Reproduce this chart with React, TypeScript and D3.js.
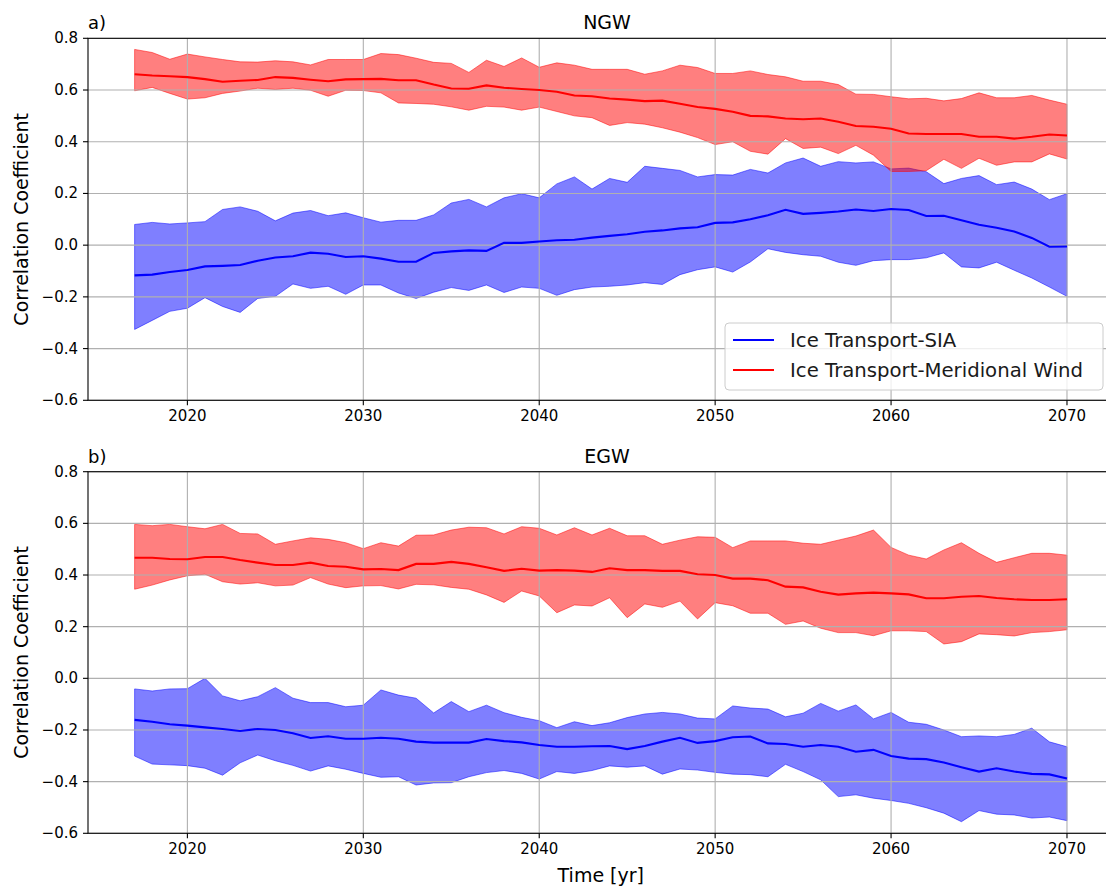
import React from 'react';
import * as d3 from 'd3';

const W = 1106;
const H = 889;

const years = [
  2017, 2018, 2019, 2020, 2021, 2022, 2023, 2024, 2025, 2026,
  2027, 2028, 2029, 2030, 2031, 2032, 2033, 2034, 2035, 2036,
  2037, 2038, 2039, 2040, 2041, 2042, 2043, 2044, 2045, 2046,
  2047, 2048, 2049, 2050, 2051, 2052, 2053, 2054, 2055, 2056,
  2057, 2058, 2059, 2060, 2061, 2062, 2063, 2064, 2065, 2066,
  2067, 2068, 2069, 2070,
];

// NGW: ice transport vs SIA
const ngwSiaMean = [
  -0.117, -0.114, -0.104, -0.096, -0.082, -0.080, -0.077, -0.060, -0.048, -0.043,
  -0.029, -0.033, -0.046, -0.043, -0.052, -0.064, -0.064, -0.030, -0.024, -0.020,
  -0.022, 0.009, 0.009, 0.014, 0.019, 0.021, 0.029, 0.036, 0.042, 0.052,
  0.057, 0.065, 0.069, 0.086, 0.088, 0.100, 0.116, 0.137, 0.121, 0.125,
  0.130, 0.138, 0.132, 0.140, 0.136, 0.113, 0.114, 0.096, 0.079, 0.067,
  0.053, 0.028, -0.006, -0.005,
];
const ngwSiaHigh = [
  0.080, 0.088, 0.082, 0.086, 0.091, 0.138, 0.148, 0.131, 0.094, 0.124,
  0.134, 0.114, 0.125, 0.106, 0.089, 0.096, 0.096, 0.117, 0.163, 0.177,
  0.148, 0.183, 0.199, 0.183, 0.237, 0.264, 0.217, 0.258, 0.243, 0.305,
  0.297, 0.289, 0.264, 0.273, 0.271, 0.293, 0.279, 0.318, 0.337, 0.305,
  0.323, 0.318, 0.322, 0.295, 0.298, 0.284, 0.238, 0.258, 0.269, 0.234,
  0.244, 0.217, 0.176, 0.199,
];
const ngwSiaLow = [
  -0.326, -0.291, -0.256, -0.244, -0.203, -0.237, -0.260, -0.206, -0.198, -0.150,
  -0.167, -0.159, -0.190, -0.154, -0.154, -0.185, -0.206, -0.182, -0.164, -0.175,
  -0.154, -0.183, -0.162, -0.167, -0.194, -0.172, -0.162, -0.159, -0.154, -0.145,
  -0.152, -0.114, -0.095, -0.084, -0.104, -0.065, -0.014, -0.028, -0.037, -0.043,
  -0.066, -0.078, -0.060, -0.056, -0.056, -0.049, -0.030, -0.084, -0.088, -0.066,
  -0.097, -0.127, -0.162, -0.198,
];

// NGW: ice transport vs meridional wind
const ngwWindMean = [
  0.661, 0.656, 0.653, 0.650, 0.642, 0.632, 0.636, 0.639, 0.650, 0.647,
  0.640, 0.634, 0.641, 0.642, 0.643, 0.638, 0.638, 0.621, 0.606, 0.605,
  0.618, 0.609, 0.604, 0.600, 0.593, 0.579, 0.576, 0.567, 0.563, 0.557,
  0.559, 0.547, 0.534, 0.527, 0.516, 0.500, 0.498, 0.490, 0.487, 0.490,
  0.477, 0.461, 0.458, 0.450, 0.432, 0.430, 0.430, 0.430, 0.419, 0.419,
  0.412, 0.419, 0.428, 0.424,
];
const ngwWindHigh = [
  0.757, 0.745, 0.719, 0.739, 0.728, 0.718, 0.709, 0.708, 0.713, 0.709,
  0.697, 0.718, 0.718, 0.718, 0.741, 0.737, 0.723, 0.707, 0.703, 0.668,
  0.715, 0.691, 0.724, 0.688, 0.705, 0.696, 0.680, 0.680, 0.680, 0.661,
  0.674, 0.696, 0.687, 0.664, 0.664, 0.674, 0.660, 0.651, 0.634, 0.634,
  0.621, 0.584, 0.583, 0.574, 0.566, 0.568, 0.558, 0.567, 0.589, 0.570,
  0.570, 0.579, 0.561, 0.545,
];
const ngwWindLow = [
  0.597, 0.610, 0.587, 0.565, 0.570, 0.587, 0.596, 0.607, 0.602, 0.607,
  0.599, 0.576, 0.599, 0.598, 0.589, 0.550, 0.548, 0.545, 0.535, 0.522,
  0.537, 0.534, 0.522, 0.534, 0.517, 0.500, 0.493, 0.463, 0.474, 0.468,
  0.454, 0.437, 0.416, 0.389, 0.400, 0.363, 0.352, 0.412, 0.374, 0.379,
  0.354, 0.386, 0.348, 0.285, 0.285, 0.288, 0.332, 0.297, 0.336, 0.309,
  0.322, 0.322, 0.353, 0.333,
];

// EGW: ice transport vs SIA
const egwSiaMean = [
  -0.161, -0.168, -0.178, -0.183, -0.190, -0.196, -0.204, -0.196, -0.200, -0.213,
  -0.231, -0.224, -0.234, -0.234, -0.230, -0.234, -0.245, -0.249, -0.249, -0.249,
  -0.235, -0.243, -0.248, -0.258, -0.265, -0.265, -0.263, -0.262, -0.274, -0.262,
  -0.245, -0.230, -0.250, -0.243, -0.228, -0.225, -0.252, -0.254, -0.265, -0.258,
  -0.265, -0.284, -0.277, -0.301, -0.311, -0.313, -0.326, -0.344, -0.361, -0.348,
  -0.361, -0.370, -0.372, -0.388,
];
const egwSiaHigh = [
  -0.041, -0.049, -0.041, -0.040, 0.000, -0.068, -0.087, -0.071, -0.036, -0.077,
  -0.094, -0.094, -0.110, -0.104, -0.045, -0.065, -0.077, -0.134, -0.090, -0.129,
  -0.104, -0.133, -0.151, -0.164, -0.191, -0.168, -0.183, -0.172, -0.152, -0.138,
  -0.132, -0.138, -0.154, -0.157, -0.107, -0.115, -0.119, -0.149, -0.135, -0.097,
  -0.127, -0.103, -0.157, -0.132, -0.170, -0.178, -0.200, -0.226, -0.223, -0.226,
  -0.217, -0.193, -0.246, -0.265,
];
const egwSiaLow = [
  -0.301, -0.332, -0.335, -0.338, -0.348, -0.375, -0.327, -0.297, -0.319, -0.337,
  -0.359, -0.339, -0.352, -0.368, -0.383, -0.381, -0.413, -0.405, -0.404, -0.381,
  -0.365, -0.357, -0.368, -0.390, -0.361, -0.368, -0.357, -0.339, -0.344, -0.339,
  -0.371, -0.351, -0.355, -0.364, -0.371, -0.373, -0.381, -0.333, -0.361, -0.393,
  -0.458, -0.451, -0.464, -0.473, -0.484, -0.501, -0.522, -0.555, -0.512, -0.526,
  -0.529, -0.541, -0.537, -0.551,
];

// EGW: ice transport vs meridional wind
const egwWindMean = [
  0.467, 0.467, 0.462, 0.461, 0.470, 0.470, 0.458, 0.448, 0.439, 0.439,
  0.448, 0.435, 0.432, 0.422, 0.423, 0.419, 0.443, 0.443, 0.451, 0.443,
  0.430, 0.416, 0.424, 0.417, 0.419, 0.417, 0.412, 0.426, 0.419, 0.419,
  0.416, 0.416, 0.403, 0.400, 0.386, 0.386, 0.380, 0.355, 0.352, 0.335,
  0.324, 0.329, 0.332, 0.329, 0.325, 0.310, 0.310, 0.316, 0.319, 0.311,
  0.306, 0.303, 0.303, 0.306,
];
const egwWindHigh = [
  0.596, 0.591, 0.596, 0.587, 0.579, 0.596, 0.561, 0.559, 0.519, 0.532,
  0.544, 0.538, 0.525, 0.502, 0.525, 0.512, 0.554, 0.555, 0.574, 0.585,
  0.583, 0.559, 0.587, 0.581, 0.555, 0.583, 0.555, 0.581, 0.552, 0.552,
  0.519, 0.535, 0.548, 0.546, 0.506, 0.532, 0.532, 0.532, 0.523, 0.519,
  0.535, 0.551, 0.574, 0.507, 0.477, 0.462, 0.497, 0.525, 0.484, 0.449,
  0.467, 0.484, 0.484, 0.477,
];
const egwWindLow = [
  0.345, 0.361, 0.381, 0.397, 0.403, 0.374, 0.365, 0.370, 0.358, 0.361,
  0.390, 0.365, 0.351, 0.358, 0.359, 0.346, 0.364, 0.362, 0.352, 0.345,
  0.323, 0.294, 0.338, 0.319, 0.254, 0.284, 0.280, 0.312, 0.235, 0.288,
  0.275, 0.299, 0.230, 0.293, 0.281, 0.252, 0.252, 0.209, 0.222, 0.194,
  0.177, 0.177, 0.165, 0.184, 0.184, 0.181, 0.133, 0.142, 0.172, 0.169,
  0.164, 0.177, 0.181, 0.188,
];

const xTicks = [2020, 2030, 2040, 2050, 2060, 2070];
const yTicks = [-0.6, -0.4, -0.2, 0.0, 0.2, 0.4, 0.6, 0.8];
const yTickLabels = ['\u22120.6', '\u22120.4', '\u22120.2', '0.0', '0.2', '0.4', '0.6', '0.8'];

const seriesNames = ['Ice Transport-SIA', 'Ice Transport-Meridional Wind'];
const seriesColors = ['#0000ff', '#ff0000'];

const FONT = 'DejaVu Sans, sans-serif';
const AX_LEFT = 88;
const AX_RIGHT = 1113.6;

const x = d3.scaleLinear().domain([2014.35, 2072.65]).range([AX_LEFT, AX_RIGHT]);

type Band = { mean: number[]; high: number[]; low: number[] };

function Panel(props: {
  top: number;
  bottom: number;
  tag: string;
  title: string;
  bands: Band[];
  legend: boolean;
  id: string;
}) {
  const { top, bottom, tag, title, bands, legend, id } = props;
  const y = d3.scaleLinear().domain([-0.6, 0.8]).range([bottom, top]);
  const idx = years.map((_, i) => i);

  const areaOf = (b: Band) =>
    d3
      .area<number>()
      .x((i) => x(years[i]))
      .y0((i) => y(b.low[i]))
      .y1((i) => y(b.high[i]))(idx) || '';
  const lineOf = (b: Band) =>
    d3
      .line<number>()
      .x((i) => x(years[i]))
      .y((i) => y(b.mean[i]))(idx) || '';

  const midY = (top + bottom) / 2;

  return (
    <g>
      <defs>
        <clipPath id={id}>
          <rect x={AX_LEFT} y={top} width={AX_RIGHT - AX_LEFT} height={bottom - top} />
        </clipPath>
      </defs>
      <g clipPath={`url(#${id})`}>
        {bands.map((b, k) => (
          <path
            key={'a' + k}
            d={areaOf(b)}
            fill={seriesColors[k]}
            fillOpacity={0.5}
            stroke={seriesColors[k]}
            strokeOpacity={0.5}
            strokeWidth={1}
          />
        ))}
        {xTicks.map((t) => (
          <line key={'gx' + t} x1={x(t)} x2={x(t)} y1={top} y2={bottom} stroke="#b0b0b0" strokeWidth={1.1} />
        ))}
        {yTicks.map((t) => (
          <line key={'gy' + t} x1={AX_LEFT} x2={AX_RIGHT} y1={y(t)} y2={y(t)} stroke="#b0b0b0" strokeWidth={1.1} />
        ))}
        {bands.map((b, k) => (
          <path key={'l' + k} d={lineOf(b)} fill="none" stroke={seriesColors[k]} strokeWidth={2.1} />
        ))}
      </g>
      <rect x={AX_LEFT} y={top} width={AX_RIGHT - AX_LEFT} height={bottom - top} fill="none" stroke="#000" strokeWidth={1.1} />
      {xTicks.map((t) => (
        <g key={'tx' + t}>
          <line x1={x(t)} x2={x(t)} y1={bottom} y2={bottom + 5} stroke="#000" strokeWidth={1.1} />
          <text x={x(t)} y={bottom + 21} textAnchor="middle" fontFamily={FONT} fontSize={15} fill="#000">
            {t}
          </text>
        </g>
      ))}
      {yTicks.map((t, i) => (
        <g key={'ty' + t}>
          <line x1={AX_LEFT - 5} x2={AX_LEFT} y1={y(t)} y2={y(t)} stroke="#000" strokeWidth={1.1} />
          <text x={AX_LEFT - 10} y={y(t) + 5} textAnchor="end" fontFamily={FONT} fontSize={15} fill="#000">
            {yTickLabels[i]}
          </text>
        </g>
      ))}
      <text x={AX_LEFT} y={top - 9} fontFamily={FONT} fontSize={18} fill="#000">
        {tag}
      </text>
      <text x={607} y={top - 9} textAnchor="middle" fontFamily={FONT} fontSize={19} fill="#000">
        {title}
      </text>
      <text
        transform={`translate(28, ${midY}) rotate(-90)`}
        textAnchor="middle"
        fontFamily={FONT}
        fontSize={19}
        fill="#000"
      >
        Correlation Coefficient
      </text>
      {legend && (
        <g>
          <rect x={725} y={323} width={378} height={67} rx={4} fill="#fff" fillOpacity={0.8} stroke="#cccccc" strokeWidth={1} />
          {seriesNames.map((name, k) => (
            <g key={name}>
              <line x1={733} x2={774} y1={340 + k * 30} y2={340 + k * 30} stroke={seriesColors[k]} strokeWidth={2.1} />
              <text x={790} y={347 + k * 30} fontFamily={FONT} fontSize={19.7} fill="#1a1a1a">
                {name}
              </text>
            </g>
          ))}
        </g>
      )}
    </g>
  );
}

export default function App() {
  const ngw: Band[] = [
    { mean: ngwSiaMean, high: ngwSiaHigh, low: ngwSiaLow },
    { mean: ngwWindMean, high: ngwWindHigh, low: ngwWindLow },
  ];
  const egw: Band[] = [
    { mean: egwSiaMean, high: egwSiaHigh, low: egwSiaLow },
    { mean: egwWindMean, high: egwWindHigh, low: egwWindLow },
  ];
  return (
    <svg
      width={W}
      height={H}
      viewBox={`0 0 ${W} ${H}`}
      style={{ position: 'absolute', left: 0, top: 0, background: '#fff' }}
    >
      <rect x={0} y={0} width={W} height={H} fill="#fff" />
      <Panel top={38.3} bottom={400.3} tag="a)" title="NGW" bands={ngw} legend={true} id="clipA" />
      <Panel top={471.7} bottom={833.3} tag="b)" title="EGW" bands={egw} legend={false} id="clipB" />
      <text x={(AX_LEFT + AX_RIGHT) / 2} y={882} textAnchor="middle" fontFamily={FONT} fontSize={19} fill="#000">
        Time [yr]
      </text>
    </svg>
  );
}
